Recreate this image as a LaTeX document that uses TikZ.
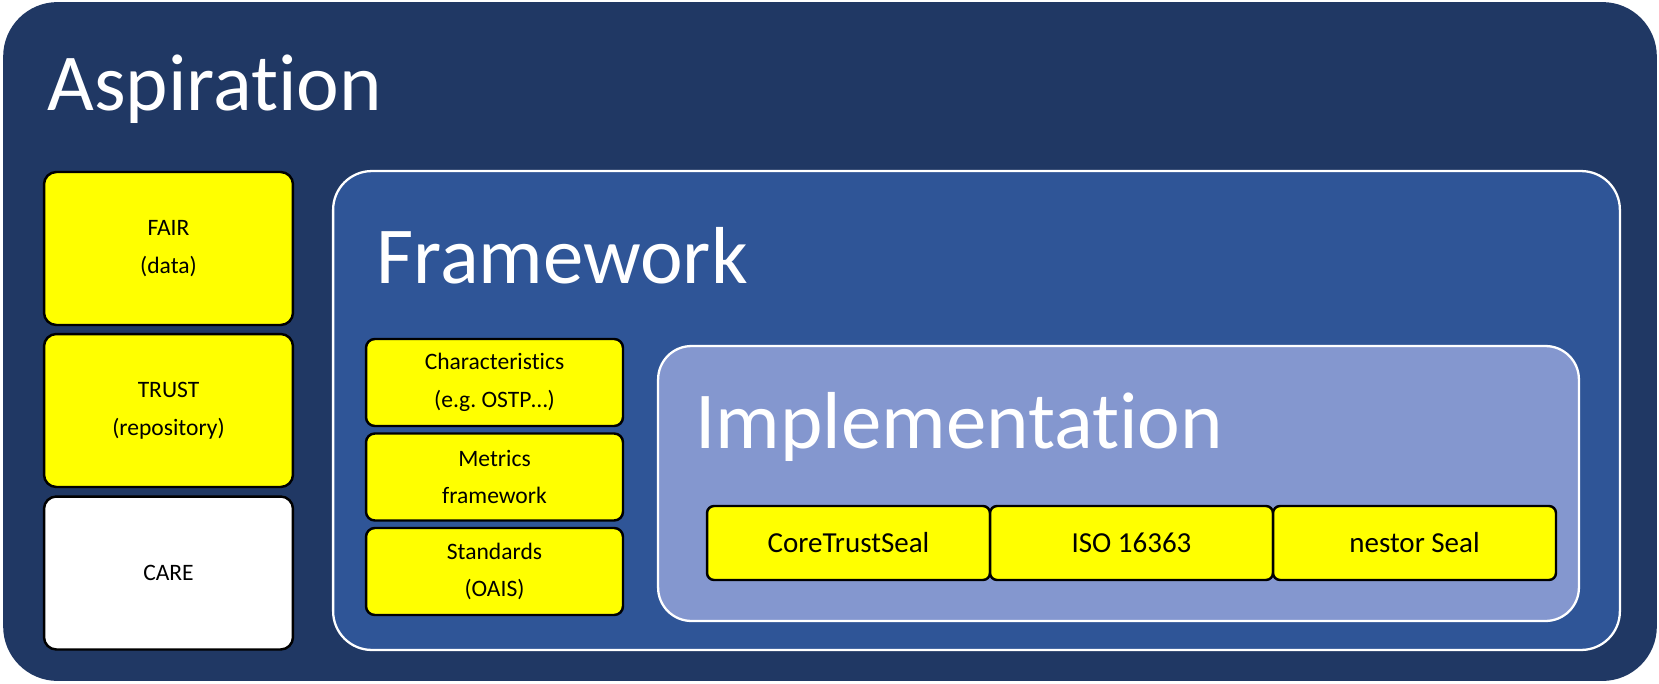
\documentclass[tikz,border=0pt]{standalone}
\usepackage{fontspec}
\setmainfont{Carlito}[Ligatures={NoCommon}]
\usepackage{tikz}
\usetikzlibrary{positioning}
\definecolor{aspnavy}{HTML}{203864}
\definecolor{frameblue}{HTML}{2F5597}
\definecolor{implblue}{HTML}{8497CF}
\definecolor{sealyellow}{HTML}{FFFF00}
\frenchspacing

\begin{document}
\begin{tikzpicture}[
    x=0.02cm, y=-0.02cm,
    layer/.style={rectangle, inner sep=0pt},
    title/.style={anchor=base west, inner sep=0pt, text=white,
                  font=\fontsize{46}{50}\selectfont},
    item/.style={draw=black, line width=1.4pt, align=center, inner sep=0pt,
                 font=\fontsize{13.4}{21.5}\selectfont},
    pillar/.style={item, rounded corners=7pt, fill=sealyellow,
                   minimum width=4.98cm, minimum height=3.06cm},
    tool/.style={item, rounded corners=5pt, fill=sealyellow,
                 minimum width=5.14cm, minimum height=1.74cm},
    seal/.style={item, rounded corners=4pt, fill=sealyellow,
                 minimum width=5.66cm, minimum height=1.48cm,
                 font=\fontsize{16.5}{20}\selectfont},
  ]
    \useasboundingbox (0,0) rectangle (1659,683);

    % Aspiration
    \node[layer, fill=aspnavy, rounded corners=31pt,
          minimum width=33.08cm, minimum height=13.58cm]
      (asp) at (830,341.5) {};
    \node[title] (asptitle) at (47,110) {Aspiration};

    % Aspiration pillars
    \node[pillar] (fair) at (168.5,248.5) {FAIR\\(data)};
    \node[pillar] (trust) at (168.5,410.5) {TRUST\\(repository)};
    \node[pillar, fill=white] (care) at (168.5,573) {CARE};

    % Framework
    \node[layer, fill=frameblue, draw=white, line width=1.3pt,
          rounded corners=22pt, minimum width=25.74cm, minimum height=9.58cm]
      (frame) at (976.5,410.5) {};
    \node[title] (frametitle) at (376,283) {Framework};

    % Framework parts
    \node[tool] (chars) at (494.5,382.5) {Characteristics\\(e.g. OSTP\dots)};
    \node[tool] (metrics) at (494.5,477) {Metrics\\framework};
    \node[tool] (stds) at (494.5,571.5) {Standards\\(OAIS)};

    % Implementation
    \node[layer, fill=implblue, draw=white, line width=1.3pt,
          rounded corners=19pt, minimum width=18.42cm, minimum height=5.5cm]
      (impl) at (1118.5,483.5) {};
    \node[title] (impltitle) at (695,448) {Implementation};

    % Seals
    \node[seal] (cts) at (848.5,543) {CoreTrustSeal};
    \node[seal] (iso) at (1131.5,543) {ISO 16363};
    \node[seal] (nestor) at (1414.5,543) {nestor Seal};
  \end{tikzpicture}
\end{document}
